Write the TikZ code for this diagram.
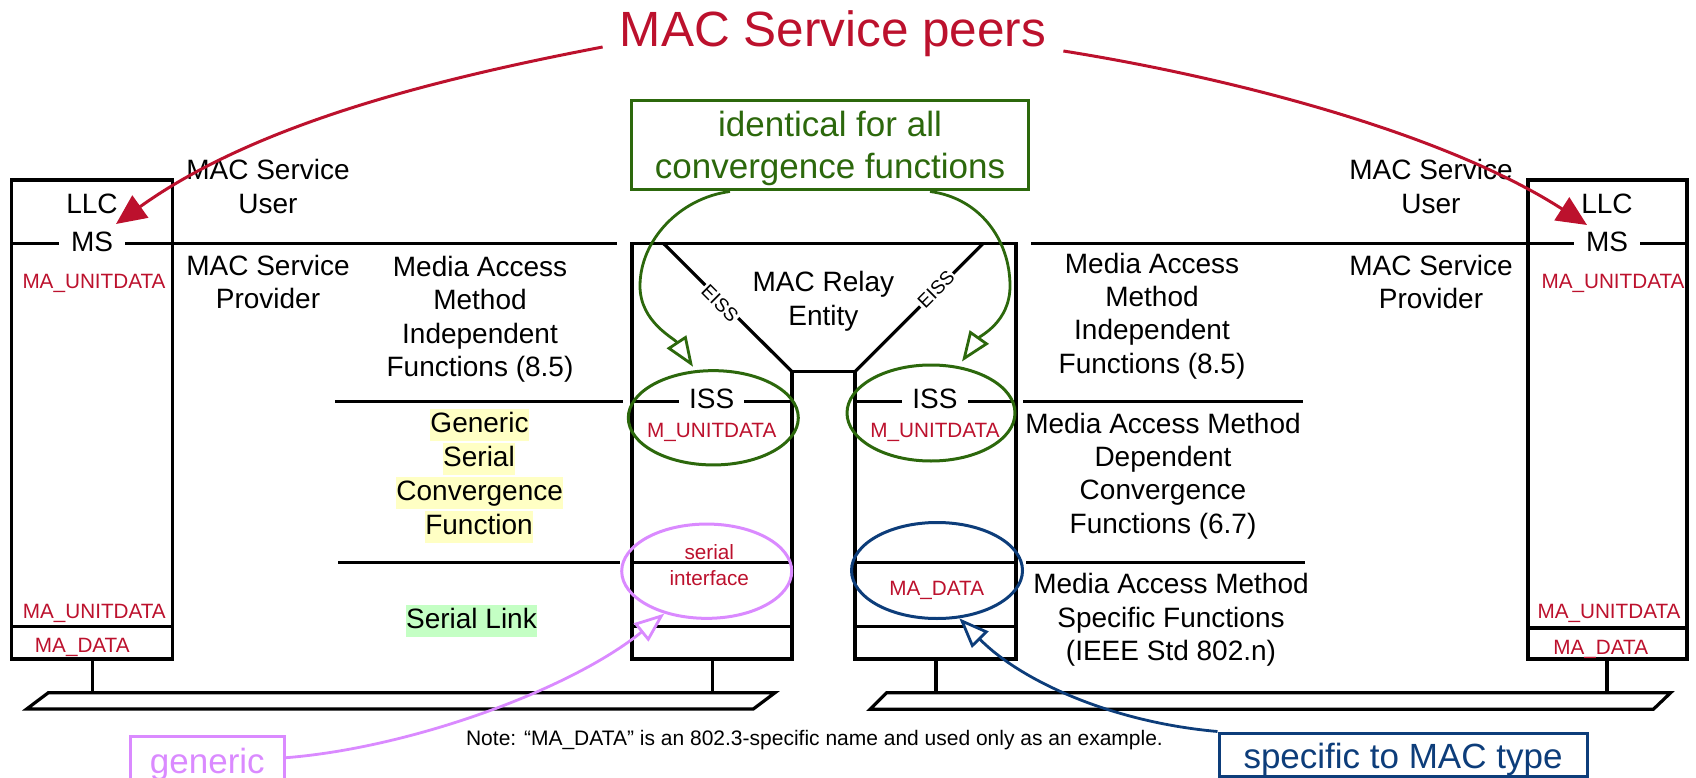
\documentclass[tikz,border=0pt]{standalone}
\usepackage{fontspec}
\setmainfont{Liberation Sans}
\usetikzlibrary{arrows.meta,shapes.geometric}
\definecolor{macred}{RGB}{188,17,45}
\definecolor{ggreen}{RGB}{44,104,12}
\definecolor{ppink}{RGB}{218,138,255}
\definecolor{bblue}{RGB}{13,61,122}
\definecolor{hlyellow}{RGB}{255,255,196}
\definecolor{hlgreen}{RGB}{196,255,196}
\begin{document}
\begin{tikzpicture}[x=1pt,y=-1pt,
  blk/.style={line width=3.2pt},
  body/.style={font=\fontsize{28}{33.4}\selectfont, align=center, inner sep=0pt, anchor=base},
  rtxt/.style={font=\fontsize{20.7}{26}\selectfont, text=macred, align=center, inner sep=0pt, anchor=base},
  cutw/.style={font=\fontsize{28}{33.4}\selectfont, fill=white, inner ysep=2pt, anchor=base},
  hlbox/.style={inner sep=0pt, text height=23.5pt, text depth=8.5pt, anchor=base, font=\fontsize{28}{33.4}\selectfont},
  ann/.style={font=\fontsize{35}{41.6}\selectfont, line width=3pt, inner xsep=0pt, inner ysep=0pt, anchor=base, align=center},
  ell/.style={ellipse, draw, line width=3pt, inner sep=0pt},
  openhead/.style={-{Triangle[length=30pt,width=23pt,fill=white]}, line width=2.8pt},
  redhead/.style={-{Triangle[length=30pt,width=27pt]}, line width=3pt, draw=macred},
]
\useasboundingbox (0,0) rectangle (1696,778);

% ---------- stations ----------
\draw[blk] (11.7,180) rectangle (172.3,659);
\draw[blk] (11.7,243.3) -- (617,243.3);
\draw[blk] (11.7,626.7) -- (172.3,626.7);
\draw[blk] (92.3,659) -- (92.3,692.7);
\draw[blk] (1528,180) rectangle (1687,659);
\draw[blk] (1031,243.3) -- (1687,243.3);
\draw[blk] (1528,628) -- (1687,628);
\draw[blk] (1607,659) -- (1607,692.7);

% ---------- buses ----------
\draw[blk] (48.3,692.7) -- (775,692.7) -- (753.3,709) -- (26.7,709) -- cycle;
\draw[blk] (886.7,692.7) -- (1670.7,692.7) -- (1653.3,709.3) -- (870,709.3) -- cycle;

% ---------- relay ----------
\draw[blk] (632,659) -- (632,243.3) -- (1016,243.3) -- (1016,659) -- (855,659)
  -- (855,371.7) -- (792,371.7) -- (792,659) -- cycle;
\draw[blk] (663.3,243.3) -- (792,371.7);
\draw[blk] (855,371.7) -- (983.4,243.3);
\draw[blk] (632,401.7) -- (792,401.7);
\draw[blk] (632,562.7) -- (792,562.7);
\draw[blk] (632,626.7) -- (792,626.7);
\draw[blk] (855,401.7) -- (1016,401.7);
\draw[blk] (855,562.7) -- (1016,562.7);
\draw[blk] (855,626.7) -- (1016,626.7);
\draw[blk] (712.3,659) -- (712.3,692.7);
\draw[blk] (936,659) -- (936,692.7);

% ---------- layer lines ----------
\draw[blk] (335,401.7) -- (623,401.7);
\draw[blk] (338,562.7) -- (620,562.7);
\draw[blk] (1023,401.7) -- (1303,401.7);
\draw[blk] (1026,562.7) -- (1305,562.7);

% ---------- station texts ----------
\node[body] (llcL) at (92,213) {LLC};
\node[cutw, inner xsep=12pt] (msL) at (92,251) {MS};
\node[rtxt] (muL) at (94,288.4) {MA\_UNITDATA};
\node[rtxt] (mu2L) at (94.3,618.1) {MA\_UNITDATA};
\node[rtxt] (mdL) at (82.3,652.4) {MA\_DATA};
\node[body] (llcR) at (1607,213) {LLC};
\node[cutw, inner xsep=12pt] (msR) at (1607,251) {MS};
\node[rtxt] (muR) at (1613,288.4) {MA\_UNITDATA};
\node[rtxt] (mu2R) at (1609,618.1) {MA\_UNITDATA};
\node[rtxt] (mdR) at (1600.7,654) {MA\_DATA};

% multi-line nodes: base anchor = last line baseline
\node[body] (userL) at (268,213.4) {MAC Service\\User};
\node[body] (provL) at (268,308.4) {MAC Service\\Provider};
\node[body] (userR) at (1431,213.4) {MAC Service\\User};
\node[body] (provR) at (1431,308.4) {MAC Service\\Provider};

\node[body] (indepL) at (480,376.7) {Media Access\\Method\\Independent\\Functions (8.5)};
\node[hlbox, fill=hlyellow] (g1) at (479.5,432.2) {Generic\ };
\node[hlbox, fill=hlyellow] (g2) at (479,466.5) {Serial};
\node[hlbox, fill=hlyellow] (g3) at (479.7,500.8) {Convergence\ };
\node[hlbox, fill=hlyellow] (g4) at (479,534.8) {Function};
\node[hlbox, fill=hlgreen] (slink) at (471.5,628.2) {Serial Link};

\node[body] (indepR) at (1152,373.2) {Media Access\\Method\\Independent\\Functions (8.5)};
\node[body] (depR) at (1163,533.2) {Media Access Method\\Dependent\\Convergence\\Functions (6.7)};
\node[body] (specR) at (1171,660.5) {Media Access Method\\Specific Functions\\(IEEE Std 802.n)};

% ---------- relay texts ----------
\node[body] (relay) at (823.4,325.1) {MAC Relay\\Entity};
\node[font=\fontsize{19}{19}\selectfont, fill=white, inner sep=1.5pt, rotate=-45] (eissL) at (720,303.3) {EISS};
\node[font=\fontsize{19}{19}\selectfont, fill=white, inner sep=1.5pt, rotate=45] (eissR) at (936,289.5) {EISS};
\node[cutw, inner xsep=10pt] (issL) at (711.7,408.3) {ISS};
\node[cutw, inner xsep=10pt] (issR) at (935,408.3) {ISS};
\node[rtxt] (muiL) at (711.7,437.4) {M\_UNITDATA};
\node[rtxt] (muiR) at (935,437.4) {M\_UNITDATA};
\node[rtxt] (serif) at (709.3,585.5) {serial\\interface};
\node[rtxt] (mdB) at (936.7,595.7) {MA\_DATA};

% ---------- ellipses ----------
\node[ell, draw=ggreen, minimum width=170pt, minimum height=94.3pt] (eL) at (713.3,417.8) {};
\node[ell, draw=ggreen, minimum width=168pt, minimum height=96pt] (eR) at (931,413) {};
\node[ell, draw=ppink, minimum width=170pt, minimum height=94.3pt] (eP) at (706.7,571.2) {};
\node[ell, draw=bblue, minimum width=171pt, minimum height=96pt] (eB) at (937,570.5) {};

% ---------- annotations ----------
\node[font=\fontsize{49.5}{59}\selectfont, text=macred, inner xsep=17pt, inner ysep=0pt, anchor=base] (title) at (833,47) {MAC Service peers};
\node[ann, draw=ggreen, text=ggreen, minimum width=396.4pt, text height=77.3pt, text depth=11.7pt] (gbox) at (830,178.3) {identical for all\\convergence functions};
\node[ann, draw=ppink, text=ppink, minimum width=153.3pt, text height=37pt, text depth=6.5pt] (gen) at (207.35,773) {generic};
\node[ann, draw=bblue, text=bblue, minimum width=368pt, text height=35.3pt, text depth=7.7pt] (bbox) at (1403,768.3) {specific to MAC type};
\node[font=\fontsize{21}{25}\selectfont, inner sep=0pt, anchor=base] (note) at (814.5,745) {Note: “MA\_DATA” is an 802.3-specific name and used only as an example.};

% ---------- connectors ----------
\coordinate (peerL) at (116,224);
\coordinate (peerR) at (1587,225);
\draw[redhead] (title.base west) .. controls (430,80) and (254,125) .. (peerL);
\draw[redhead] ([yshift=-4pt]title.base east) .. controls (1233,78) and (1444,133) .. (peerR);
\draw[openhead, draw=ggreen] ([xshift=-100pt]gbox.south)
  .. controls (680,198) and (640,240) .. (640,286)
  .. controls (640,322) and (674,338) .. ([xshift=-20.3pt,yshift=2.4pt]eL.north);
\draw[openhead, draw=ggreen] ([xshift=100pt]gbox.south)
  .. controls (980,198) and (1010,240) .. (1010,286)
  .. controls (1010,322) and (980,336) .. ([xshift=31pt,yshift=2pt]eR.north);
\draw[openhead, draw=ppink] (gen.east) .. controls (410,748) and (570,690) .. (eP.225);
\draw[openhead, draw=bblue] (bbox.north west) .. controls (1110,722) and (1020,680) .. (eB.295);
\end{tikzpicture}
\end{document}
